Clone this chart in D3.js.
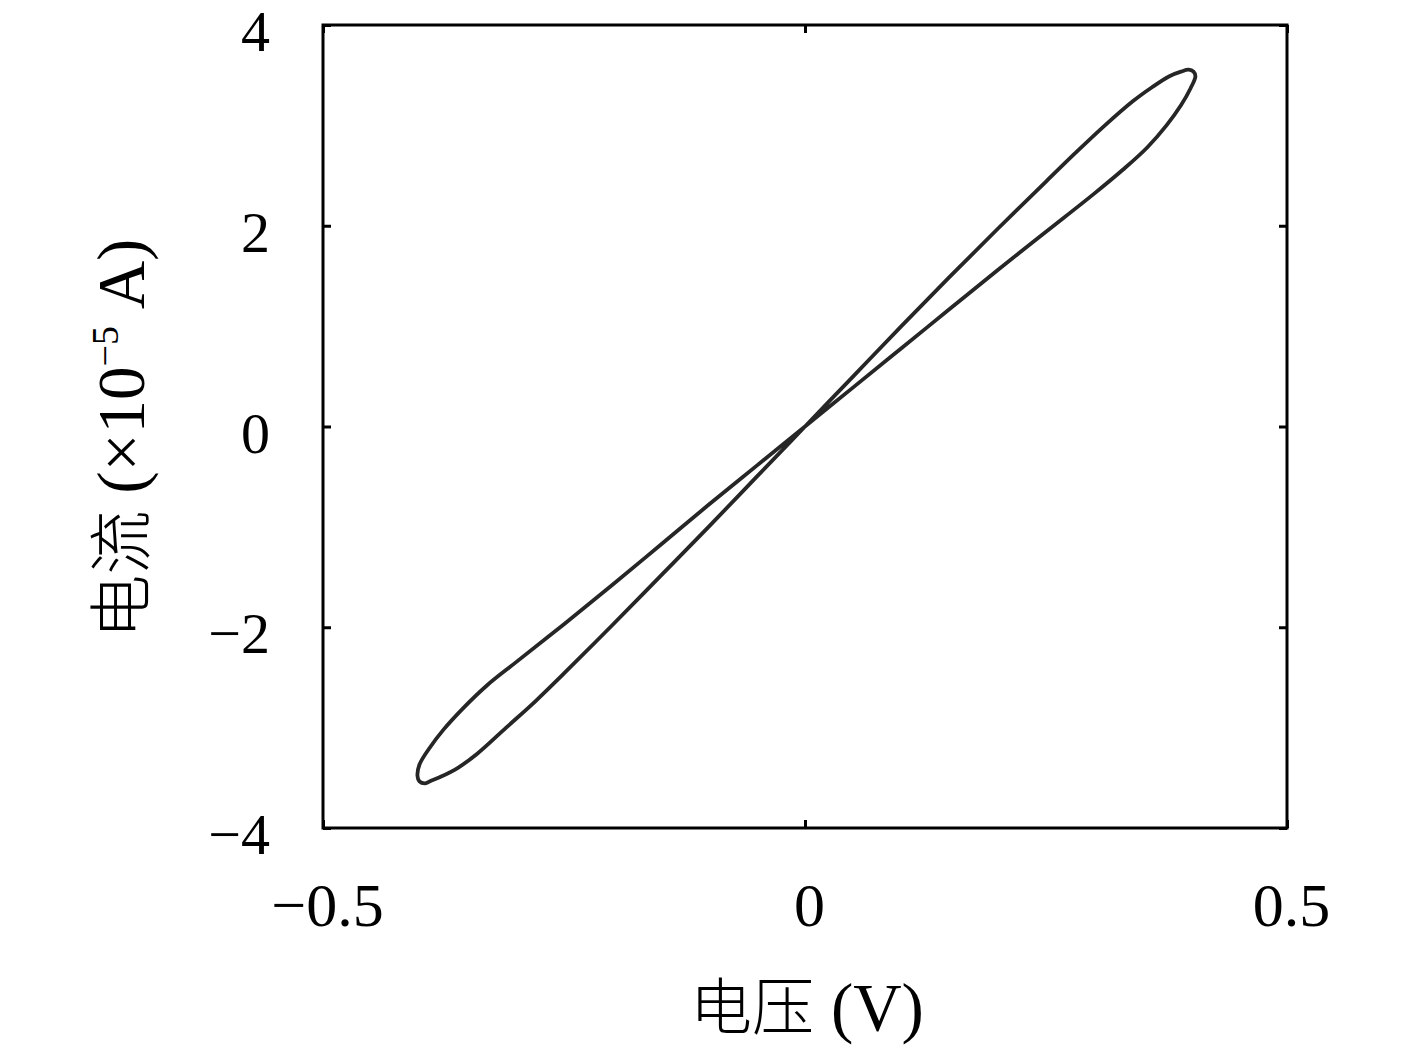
<!DOCTYPE html>
<html>
<head>
<meta charset="utf-8">
<script src="https://cdn.jsdelivr.net/npm/d3@7"></script>
<style>
  body { margin: 0; background: #fff; }
</style>
</head>
<body>
<svg width="1417" height="1051"></svg>
<script>
// pinched hysteresis loop (V, x1e-5 A), in drawing order
var voltage = [0, 0.05, 0.10, 0.15, 0.20, 0.25, 0.30, 0.33, 0.355, 0.375, 0.39, 0.40, 0.405, 0.403,
               0.398, 0.39, 0.378, 0.36, 0.34, 0.31, 0.28, 0.25, 0.20, 0.15, 0.10, 0.05,
               0, -0.05, -0.10, -0.15, -0.20, -0.25, -0.28, -0.31, -0.34, -0.36, -0.378, -0.388, -0.394, -0.400,
               -0.402, -0.40, -0.39, -0.375, -0.355, -0.33, -0.30, -0.25, -0.20, -0.15, -0.10, -0.05];
var current = [0, 0.39, 0.78, 1.17, 1.56, 1.94, 2.32, 2.56, 2.78, 3.00, 3.20, 3.37, 3.49, 3.535,
               3.555, 3.535, 3.49, 3.38, 3.24, 2.99, 2.72, 2.44, 1.97, 1.49, 1.00, 0.50,
               0, -0.50, -1.00, -1.49, -1.98, -2.46, -2.74, -3.00, -3.26, -3.40, -3.49, -3.53, -3.555, -3.535,
               -3.48, -3.37, -3.21, -3.02, -2.81, -2.58, -2.35, -1.97, -1.58, -1.18, -0.78, -0.39];
var xTicks = [-0.5, 0, 0.5];
var yTicks = [-4, -2, 0, 2, 4];

var svg = d3.select("svg"),
    margin = {top: 25, right: 130, bottom: 223, left: 323},
    width = +svg.attr("width") - margin.left - margin.right,
    height = +svg.attr("height") - margin.top - margin.bottom,
    g = svg.append("g").attr("transform", "translate(" + margin.left + "," + margin.top + ")");

var serif = "'Liberation Serif', 'Noto Sans CJK SC', serif";
var cjk = "'Noto Sans CJK SC', sans-serif";
var fmt = d3.format("~g");

var x = d3.scaleLinear().domain([-0.5, 0.5]).range([0, width]);
var y = d3.scaleLinear().domain([-4, 4]).range([height, 0]);

function styleAxis(sel) {
  sel.select(".domain").remove();
  sel.selectAll(".tick line").attr("stroke", "#000").attr("stroke-width", 3);
  sel.attr("font-family", serif).attr("font-size", 58);
  sel.selectAll(".tick text").attr("fill", "#000");
}

var xAxis = g.append("g")
    .attr("transform", "translate(0," + height + ")")
    .call(d3.axisBottom(x).tickValues(xTicks).tickSize(-8).tickFormat(fmt))
    .call(styleAxis);
xAxis.attr("font-size", 62);
xAxis.selectAll(".tick text").attr("y", 98).attr("dy", 0).attr("dx", 4);

var yAxis = g.append("g")
    .call(d3.axisLeft(y).tickValues(yTicks).tickSize(-8).tickPadding(53).tickFormat(fmt))
    .call(styleAxis);
yAxis.selectAll(".tick text").attr("dy", "0.44em");

g.append("g")
    .call(d3.axisTop(x).tickValues(xTicks).tickSize(-8).tickFormat(""))
    .call(styleAxis);
g.append("g")
    .attr("transform", "translate(" + width + ",0)")
    .call(d3.axisRight(y).tickValues(yTicks).tickSize(-8).tickFormat(""))
    .call(styleAxis);

g.append("rect")
    .attr("width", width)
    .attr("height", height)
    .attr("fill", "none")
    .attr("stroke", "#000")
    .attr("stroke-width", 3);

var line = d3.line()
    .x(function(d) { return x(d[0]); })
    .y(function(d) { return y(d[1]); })
    .curve(d3.curveCatmullRomClosed.alpha(0.5));

g.append("path")
    .datum(d3.zip(voltage, current))
    .attr("d", line)
    .attr("fill", "none")
    .attr("stroke", "#262626")
    .attr("stroke-width", 3.8)
    .attr("stroke-linejoin", "round");

// axis titles
var xt = svg.append("text")
    .attr("x", margin.left + width / 2 + 2)
    .attr("y", 1030)
    .attr("text-anchor", "middle")
    .attr("font-family", serif)
    .attr("font-size", 67);
xt.append("tspan").attr("font-family", cjk).attr("font-weight", 300).attr("font-size", 62).text("电压");
xt.append("tspan").text(" (V)");

var yt = svg.append("text")
    .attr("transform", "translate(144," + (margin.top + height / 2 + 12) + ") rotate(-90)")
    .attr("text-anchor", "middle")
    .attr("font-family", serif)
    .attr("font-size", 67);
yt.append("tspan").attr("font-family", cjk).attr("font-weight", 300).attr("font-size", 64).text("电流");
yt.append("tspan").text(" (×10");
yt.append("tspan").attr("font-size", 38).attr("dy", -26).text("−5");
yt.append("tspan").attr("dy", 26).text(" A)");
</script>
</body>
</html>
